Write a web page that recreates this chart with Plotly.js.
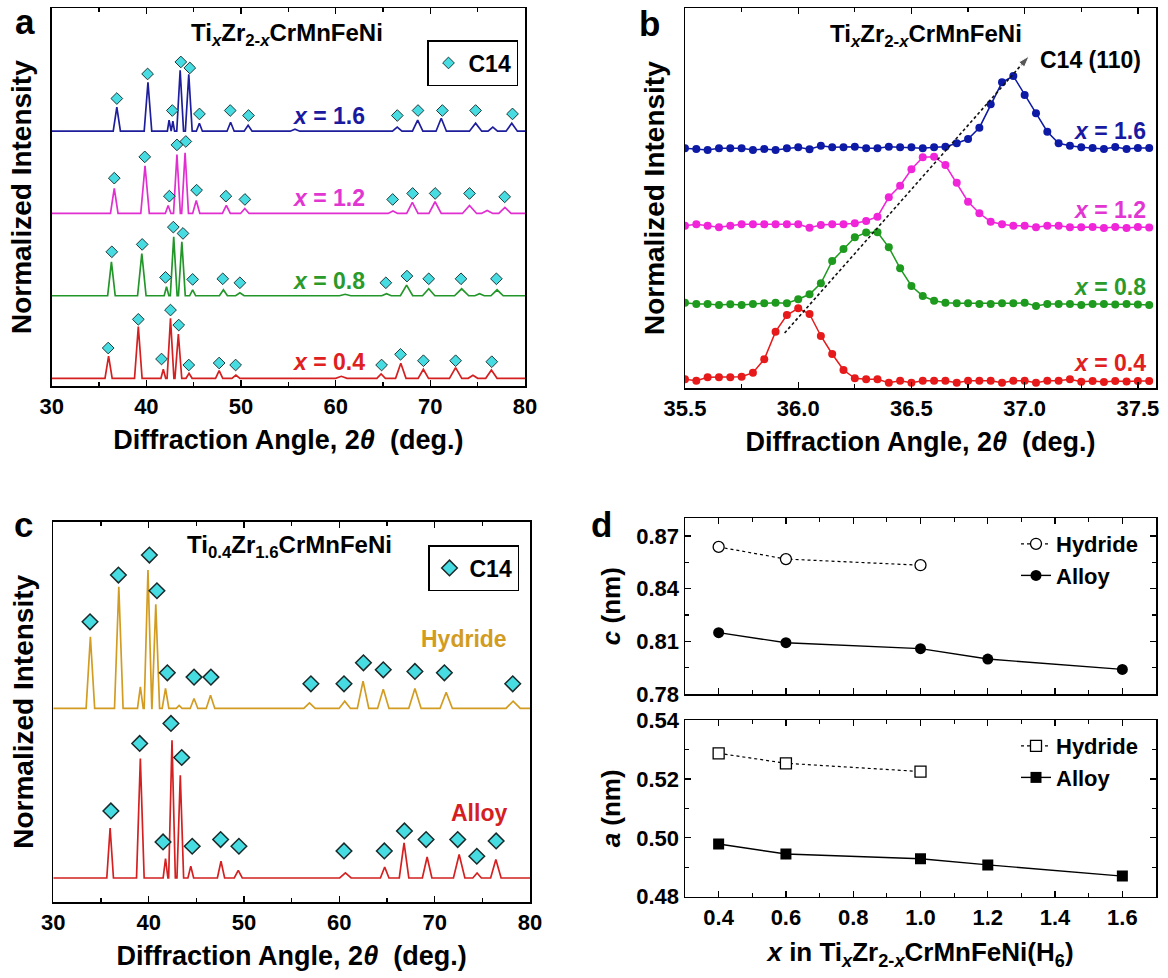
<!DOCTYPE html>
<html>
<head>
<meta charset="utf-8">
<script src="https://cdn.plot.ly/plotly-3.0.1.min.js"></script>
<style>html,body{margin:0;padding:0;background:#fff;}#chart{width:1168px;height:978px;}</style>
</head>
<body>
<div id="chart"></div>
<script>
// ---------------- DATA ----------------
// Panel a: XRD of TixZr2-xCrMnFeNi; peaks [angle (deg), height above baseline (a.u.), half base width (deg)]
const seriesLabelsA = ['x = 1.6', 'x = 1.2', 'x = 0.8', 'x = 0.4'];
const baselineA = [255, 172.7, 90.3, 7.7];
const peaksA16 = [[36.88,24,0.38],[40.17,49,0.4],[42.40,11,0.18],[42.80,10,0.18],[43.57,61,0.36],[44.48,57,0.36],[45.60,8,0.32],[48.90,9,0.38],[50.75,6,0.42],[55.7,2,0.5],[66.50,4,0.5],[68.66,11,0.55],[71.15,13,0.55],[74.78,8,0.65],[76.6,4,0.5],[78.60,8,0.6]];
const peaksA12 = [[36.61,25,0.4],[39.86,47.7,0.45],[42.30,8,0.3],[43.23,59,0.36],[44.09,60.7,0.36],[45.27,13,0.38],[48.45,8,0.42],[50.40,5,0.45],[66.05,2.5,0.5],[68.10,11,0.6],[70.50,11.7,0.65],[74.14,8,0.75],[76.0,3,0.6],[77.88,6,0.65]];
const peaksA08 = [[36.31,34,0.4],[39.52,42.3,0.45],[42.13,9,0.25],[42.89,59,0.36],[43.75,54,0.36],[44.89,6,0.32],[48.14,6,0.42],[49.88,3,0.45],[61.0,1.5,0.6],[65.37,2,0.5],[67.49,10.7,0.65],[69.83,7,0.65],[73.31,7,0.75],[75.2,2,0.5],[77.05,6,0.65]];
const peaksA04 = [[36.01,22.3,0.38],[39.15,51.7,0.4],[41.79,9,0.25],[42.55,60,0.36],[43.38,44.3,0.36],[44.51,5,0.32],[47.69,7.7,0.38],[49.46,3.3,0.42],[60.6,2,0.6],[64.80,4.3,0.45],[66.88,15,0.55],[69.26,9,0.55],[72.67,10.7,0.65],[74.5,3,0.5],[76.45,8.3,0.6]];
// C14 marker positions [angle, height above baseline]
const c14A16 = [[36.88,32.7],[40.13,57.3],[42.74,20.7],[43.64,69.3],[44.59,63.3],[45.61,17.3],[48.86,20.7],[50.79,15.7],[66.51,15.7],[68.70,20.7],[71.27,20.7],[74.78,20.7],[78.68,17.3]];
const c14A12 = [[36.61,35.3],[39.83,56.6],[42.43,17.3],[43.23,68.6],[44.17,72],[45.31,23.3],[48.40,17.3],[50.41,14],[66.02,14],[68.13,20],[70.51,20],[74.14,20],[77.85,16.6]];
const c14A08 = [[36.35,44],[39.56,51.4],[42.02,18.4],[42.85,68.7],[43.87,62.4],[44.89,16.4],[48.07,17],[49.88,13],[65.30,13],[67.53,19.7],[69.83,17],[73.24,17],[76.98,17]];
const c14A04 = [[35.97,30.3],[39.15,59],[41.60,19.3],[42.55,68.3],[43.42,53.3],[44.48,13.3],[47.69,15.3],[49.43,13.3],[64.85,13.3],[66.85,24],[69.27,17.6],[72.67,17.6],[76.49,16.6]];

// Panel b: C14 (110) peak region
const angleB = [35.50,35.55,35.60,35.65,35.70,35.75,35.80,35.85,35.90,35.95,36.00,36.05,36.10,36.15,36.20,36.25,36.30,36.35,36.40,36.45,36.50,36.55,36.60,36.65,36.70,36.75,36.80,36.85,36.90,36.95,37.00,37.05,37.10,37.15,37.20,37.25,37.30,37.35,37.40,37.45,37.50,37.55];
const intB16 = [239.7,239,238,239.7,239.7,239.7,238,239,238,239.7,240.7,238.7,242.3,240.7,240.7,241.3,239.7,239.7,241.3,240.7,240.7,239.7,240.7,241.3,244.7,249,260.3,283.7,305.7,312,293,274.7,256.3,244.7,242.3,240.7,240,239,241,239,240,240];
const intB12 = [162.3,163.7,162.3,160.7,162.3,163.7,163.7,163.7,163.7,163.7,163.7,160.3,163,163.7,163.7,164.7,167,171.3,190.7,202.3,218.7,230.7,231.3,223,205.3,186.3,174.7,166.3,163.7,162.3,162.3,160.7,162.3,162.3,160.7,160.7,161,160,161,160,161,160.5];
const intB08 = [85.3,84,84,83,83.7,83,84,84.7,85.3,84.7,88.7,93.7,104.7,127,139,150.7,155.5,155.7,140.7,119.7,102,92,87.3,85.3,84.7,84.7,84,84,84.7,84.7,85.3,82,84,84,84,83,84,84,83.5,84,83.5,83];
const intB04 = [8.7,7.3,10.7,10.7,10.7,11.3,15.3,28.7,56.3,73,79.7,74,52,34,18,9.7,8.7,8.7,5.3,7.3,5.3,7.3,7.3,7.3,5.3,7.3,7.3,7.3,5.3,7.3,7.3,5.3,7.3,7.3,8.7,6.3,7,6,7,6.5,7,7];
const shiftAngle = [35.94, 37.02];
const shiftInt = [55, 332];

// Panel c: Ti0.4Zr1.6CrMnFeNi alloy vs hydride
const baselineC = [193.4, 24]; // Hydride, Alloy
const peaksCHyd = [[33.89,71.6,0.45],[36.87,121.6,0.45],[39.13,21.6,0.3],[39.93,138.3,0.4],[40.75,104,0.4],[41.77,20,0.35],[43.2,3,0.3],[44.76,10,0.4],[46.49,13.3,0.45],[56.87,5.6,0.6],[60.57,7.3,0.6],[62.49,27.3,0.6],[64.61,19.3,0.6],[67.93,20,0.65],[71.21,16,0.65],[78.23,7.3,0.75]];
const peaksCAlloy = [[35.96,50,0.35],[39.13,119.4,0.4],[41.77,19.4,0.25],[42.45,137.7,0.35],[43.32,102.7,0.35],[44.42,11.7,0.3],[47.59,16.7,0.38],[49.40,7.7,0.42],[60.64,5,0.6],[64.76,11,0.45],[66.79,35,0.5],[69.21,21,0.5],[72.57,23.4,0.6],[74.45,5,0.45],[76.42,18.4,0.55]];
const c14CHyd = [[33.85,86.6],[36.83,133.3],[40.08,153.3],[40.87,117.6],[41.96,35.6],[44.76,31.3],[46.53,31.3],[57.02,24.6],[60.49,24.6],[62.53,45.6],[64.61,38.6],[67.93,37],[71.02,35.6],[78.19,24.6]];
const c14CAlloy = [[36.04,67],[39.06,134.4],[41.51,36],[42.34,154.4],[43.47,120.4],[44.57,31.7],[47.55,38.4],[49.47,31.7],[60.49,27],[64.72,27],[66.83,47],[69.10,38.4],[72.42,38.4],[74.42,21.7],[76.45,37]];

// Panel d: lattice parameters
const xHyd = [0.4, 0.6, 1.0];
const xAlloy = [0.4, 0.6, 1.0, 1.2, 1.6];
const cHyd = [0.8637, 0.8568, 0.8533];
const cAlloy = [0.8149, 0.8092, 0.8058, 0.7999, 0.7940];
const aHyd = [0.5287, 0.5253, 0.5225];
const aAlloy = [0.4979, 0.4945, 0.4929, 0.4908, 0.4870];

// ---------------- STYLE ----------------
const FAM = 'Liberation Sans, Arial, Helvetica, sans-serif';
const colA = ['#1E1E9C', '#E02ED0', '#23962A', '#D42020'];
const colB = ['#0D1AA6', '#F024D8', '#1E9A1E', '#E61A1A'];
const labCol = ['#1A1AA0', '#E236D2', '#2A9A2A', '#E02020'];
const gold = '#D29C22';
const cyan = '#46DCE2';

function pattern(peaks, base, x0, x1) {
  const xs = [x0], ys = [base];
  peaks.forEach(function (pk) {
    xs.push(pk[0] - pk[2]); ys.push(base);
    xs.push(pk[0]); ys.push(base + pk[1]);
    xs.push(pk[0] + pk[2]); ys.push(base);
  });
  xs.push(x1); ys.push(base);
  return {x: xs, y: ys};
}
function markers(list, base) {
  return {x: list.map(function (m) { return m[0]; }), y: list.map(function (m) { return base + m[1]; })};
}

const traces = [];
// Panel a
[peaksA16, peaksA12, peaksA08, peaksA04].forEach(function (pk, i) {
  const p = pattern(pk, baselineA[i], 30, 80);
  traces.push({x: p.x, y: p.y, xaxis: 'x', yaxis: 'y', mode: 'lines', line: {color: colA[i], width: 1.7}, showlegend: false, hoverinfo: 'skip'});
});
(function () {
  const xs = [], ys = [];
  [c14A16, c14A12, c14A08, c14A04].forEach(function (l, i) {
    const m = markers(l, baselineA[i]);
    xs.push.apply(xs, m.x); ys.push.apply(ys, m.y);
  });
  traces.push({x: xs, y: ys, xaxis: 'x', yaxis: 'y', mode: 'markers', name: 'C14', legend: 'legend',
    marker: {symbol: 'diamond', size: 9, color: cyan, line: {color: '#203838', width: 1}}});
})();
// Panel b
[intB16, intB12, intB08, intB04].forEach(function (v, i) {
  traces.push({x: angleB, y: v, xaxis: 'x2', yaxis: 'y2', mode: 'lines+markers', line: {color: colB[i], width: 1.5},
    marker: {size: 8, color: colB[i]}, showlegend: false, hoverinfo: 'skip'});
});
traces.push({x: shiftAngle, y: shiftInt, xaxis: 'x2', yaxis: 'y2', mode: 'lines+markers', line: {color: '#111', width: 1.6, dash: '3px,2.5px'},
  marker: {symbol: 'arrow', size: [0, 12], angleref: 'previous', color: '#111'}, showlegend: false, hoverinfo: 'skip'});
// Panel c
(function () {
  const h = pattern(peaksCHyd, baselineC[0], 30, 80);
  const a = pattern(peaksCAlloy, baselineC[1], 30, 80);
  traces.push({x: h.x, y: h.y, xaxis: 'x3', yaxis: 'y3', mode: 'lines', line: {color: gold, width: 1.7}, showlegend: false, hoverinfo: 'skip'});
  traces.push({x: a.x, y: a.y, xaxis: 'x3', yaxis: 'y3', mode: 'lines', line: {color: '#D42020', width: 1.7}, showlegend: false, hoverinfo: 'skip'});
  const mh = markers(c14CHyd, baselineC[0]);
  const ma = markers(c14CAlloy, baselineC[1]);
  traces.push({x: mh.x.concat(ma.x), y: mh.y.concat(ma.y), xaxis: 'x3', yaxis: 'y3', mode: 'markers', name: 'C14', legend: 'legend2',
    marker: {symbol: 'diamond', size: 12, color: cyan, line: {color: '#1A2A2A', width: 1.5}}});
})();
// Panel d
traces.push({x: xHyd, y: cHyd, xaxis: 'x4', yaxis: 'y4', mode: 'lines+markers', name: 'Hydride', legend: 'legend3',
  line: {color: '#000', width: 1.2, dash: 'dot'}, marker: {symbol: 'circle', size: 11, color: '#fff', line: {color: '#000', width: 1.3}}});
traces.push({x: xAlloy, y: cAlloy, xaxis: 'x4', yaxis: 'y4', mode: 'lines+markers', name: 'Alloy', legend: 'legend3',
  line: {color: '#000', width: 1.4}, marker: {symbol: 'circle', size: 11, color: '#000'}});
traces.push({x: xHyd, y: aHyd, xaxis: 'x5', yaxis: 'y5', mode: 'lines+markers', name: 'Hydride', legend: 'legend4',
  line: {color: '#000', width: 1.2, dash: 'dot'}, marker: {symbol: 'square', size: 11, color: '#fff', line: {color: '#000', width: 1.3}}});
traces.push({x: xAlloy, y: aAlloy, xaxis: 'x5', yaxis: 'y5', mode: 'lines+markers', name: 'Alloy', legend: 'legend4',
  line: {color: '#000', width: 1.4}, marker: {symbol: 'square', size: 11, color: '#000'}});

// ---------------- LAYOUT ----------------
const W = 1168, H = 978;
function dx(a, b) { return [a / W, b / W]; }
function dy(top, bot) { return [1 - bot / H, 1 - top / H]; }
function F(size, color) { return {family: FAM, size: size, color: color || '#000', weight: 'bold'}; }
const tickFont = F(22);
const titleFont = F(27);
function xa(dom, anchor, range, tick0, dtick, minor, fmt, title, standoff, showlabels, tfont) {
  return {domain: dom, anchor: anchor, range: range, dtick: dtick, tick0: tick0, tickformat: fmt,
    ticks: 'inside', ticklen: 6, tickwidth: 1.3, tickcolor: '#000', showline: true, linecolor: '#000', linewidth: 1.5,
    mirror: 'allticks', showgrid: false, zeroline: false, tickfont: tickFont, showticklabels: showlabels !== false,
    minor: {dtick: minor, ticks: 'inside', ticklen: 4, tickwidth: 1.2, tickcolor: '#000', showgrid: false},
    title: title ? {text: title, font: tfont || titleFont, standoff: standoff} : undefined, fixedrange: true};
}
function yplain(dom, anchor, range, title, standoff) {
  return {domain: dom, anchor: anchor, range: range, showticklabels: false, ticks: '', showline: true, linecolor: '#000',
    linewidth: 1.5, mirror: true, showgrid: false, zeroline: false, title: {text: title, font: F(28), standoff: standoff}, fixedrange: true};
}
const xTitle = 'Diffraction Angle, 2<i>θ</i>  (deg.)';
const layout = {
  width: W, height: H, margin: {l: 0, r: 0, t: 0, b: 0}, paper_bgcolor: '#fff', plot_bgcolor: '#fff',
  font: {family: FAM, color: '#000', weight: 'bold'},
  xaxis: xa(dx(51.7, 525), 'y', [30, 80], 30, 10, 5, 'd', xTitle, 12),
  yaxis: yplain(dy(8.3, 386), 'x', [0, 378], 'Normalized Intensity', 10),
  xaxis2: xa(dx(685, 1156), 'y2', [35.5, 37.58], 35.5, 0.5, 0.25, '.1f', xTitle, 12),
  yaxis2: yplain(dy(8.3, 388), 'x2', [0, 379.7], 'Normalized Intensity', 10),
  xaxis3: xa(dx(53.3, 530), 'y3', [30, 80], 30, 10, 5, 'd', xTitle, 12),
  yaxis3: yplain(dy(521.7, 902), 'x3', [0, 380], 'Normalized Intensity', 10),
  xaxis4: xa(dx(685, 1156), 'y4', [0.3, 1.7], 0.4, 0.2, 0.1, '.1f', null, 0, false),
  yaxis4: xa(dy(518.3, 694), 'x4', [0.78, 0.88], 0.78, 0.03, 0.015, '.2f', '<i>c</i> (nm)', 8, true, F(26)),
  xaxis5: xa(dx(685, 1156), 'y5', [0.3, 1.7], 0.4, 0.2, 0.1, '.1f', '<i>x</i> in Ti<sub><i>x</i></sub>Zr<sub>2-<i>x</i></sub>CrMnFeNi(H<sub>6</sub>)', 14, true, F(26)),
  yaxis5: xa(dy(720, 896.7), 'x5', [0.48, 0.54], 0.48, 0.02, 0.01, '.2f', '<i>a</i> (nm)', 8, true, F(26)),
  legend: {x: 518 / W, y: 1 - 40 / H, xanchor: 'right', yanchor: 'top', bordercolor: '#000', borderwidth: 1.5, bgcolor: '#fff',
    font: F(23), itemwidth: 30},
  legend2: {x: 519 / W, y: 1 - 545 / H, xanchor: 'right', yanchor: 'top', bordercolor: '#000', borderwidth: 1.5, bgcolor: '#fff',
    font: F(23), itemwidth: 30},
  legend3: {x: 1016 / W, y: 1 - 523 / H, xanchor: 'left', yanchor: 'top', bgcolor: 'rgba(0,0,0,0)', borderwidth: 0,
    font: F(22), itemwidth: 30, tracegroupgap: 0},
  legend4: {x: 1016 / W, y: 1 - 725 / H, xanchor: 'left', yanchor: 'top', bgcolor: 'rgba(0,0,0,0)', borderwidth: 0,
    font: F(22), itemwidth: 30, tracegroupgap: 0},
  annotations: [],
  showlegend: true
};

const ann = layout.annotations;
function A(o) { ann.push(Object.assign({showarrow: false, xanchor: 'center', yanchor: 'middle', font: F(23)}, o)); }
// panel letters
A({xref: 'paper', yref: 'paper', x: 25 / W, y: 1, yanchor: 'top', text: 'a', font: F(35)});
A({xref: 'paper', yref: 'paper', x: 649 / W, y: 1 - 23 / H, text: 'b', font: F(35)});
A({xref: 'paper', yref: 'paper', x: 23 / W, y: 1 - 524 / H, text: 'c', font: F(35)});
A({xref: 'paper', yref: 'paper', x: 601 / W, y: 1 - 524 / H, text: 'd', font: F(35)});
// titles
const alloyTitle = 'Ti<sub><i>x</i></sub>Zr<sub>2-<i>x</i></sub>CrMnFeNi';
A({xref: 'x', yref: 'y', x: 54.87, y: 352, text: alloyTitle, font: F(24)});
A({xref: 'x2', yref: 'y2', x: 36.566, y: 353, text: alloyTitle, font: F(24)});
A({xref: 'x3', yref: 'y3', x: 54.8, y: 355, text: 'Ti<sub>0.4</sub>Zr<sub>1.6</sub>CrMnFeNi', font: F(24)});
// series labels
const labYA = [270, 187.7, 105.3, 24.3];
seriesLabelsA.forEach(function (t, i) {
  A({xref: 'x', yref: 'y', x: 59.2, y: labYA[i], text: '<i>x</i>' + t.slice(1), font: F(23, labCol[i])});
});
const labYB = [257, 178, 101, 24.7];
seriesLabelsA.forEach(function (t, i) {
  A({xref: 'x2', yref: 'y2', x: 37.545, y: labYB[i], xanchor: 'right', text: '<i>x</i>' + t.slice(1), font: F(23, labCol[i])});
});
A({xref: 'x2', yref: 'y2', x: 37.06, y: 328, xanchor: 'left', text: 'C14 (110)', font: F(23)});
// panel c labels
A({xref: 'x3', yref: 'y3', x: 77.8, y: 262.3, xanchor: 'right', text: 'Hydride', font: F(23, gold)});
A({xref: 'x3', yref: 'y3', x: 77.8, y: 89, xanchor: 'right', text: 'Alloy', font: F(23, '#D42020')});

Plotly.newPlot('chart', traces, layout, {staticPlot: true, displayModeBar: false});
</script>
</body>
</html>
